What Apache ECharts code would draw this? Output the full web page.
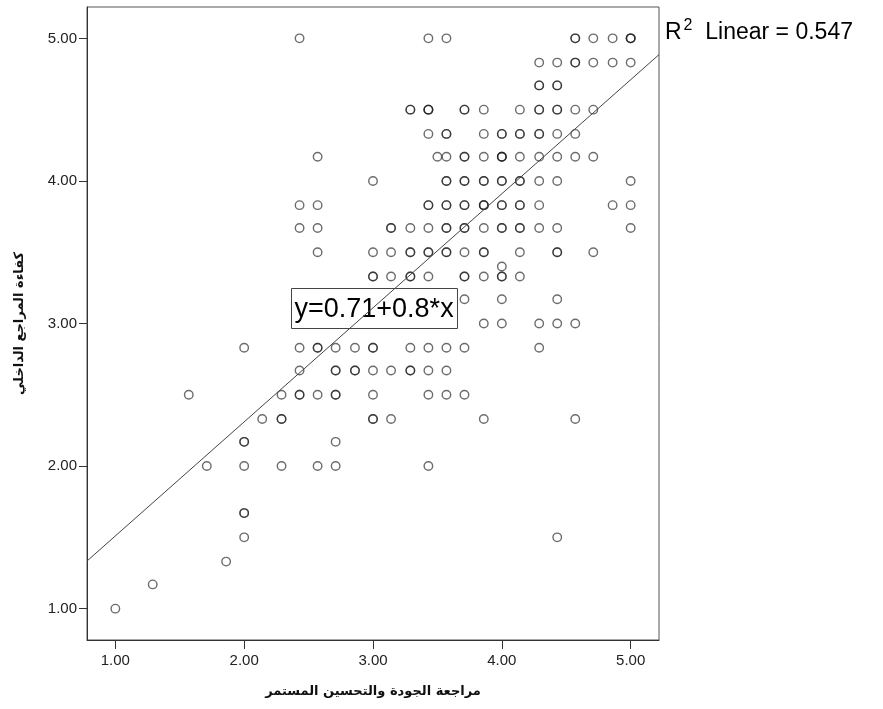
<!DOCTYPE html>
<html>
<head>
<meta charset="utf-8">
<script src="https://cdn.jsdelivr.net/npm/echarts@6/dist/echarts.min.js"></script>
<style>
  html, body { margin: 0; padding: 0; background: #fff; }
  #main { width: 883px; height: 709px; }
</style>
</head>
<body>
<div id="main"></div>
<script>
// y levels of the scatter (internal auditor efficiency)
var yLevels = [5.00, 4.83, 4.67, 4.50, 4.33, 4.17, 4.00, 3.83, 3.67, 3.50, 3.40, 3.33, 3.17,
               3.00, 2.83, 2.67, 2.50, 2.33, 2.17, 2.00, 1.67, 1.50, 1.33, 1.17, 1.00];
// x values (quality review) found on each level, repeats = overlapping cases
var xAtLevel = [
  [2.43, 3.43, 3.57, 4.57, 4.57, 4.71, 4.86, 5.00, 5.00, 5.00],
  [4.29, 4.43, 4.57, 4.57, 4.71, 4.86, 5.00],
  [4.29, 4.29, 4.43, 4.43],
  [3.29, 3.29, 3.43, 3.43, 3.43, 3.71, 3.71, 3.86, 4.14, 4.29, 4.29, 4.43, 4.43, 4.57, 4.71],
  [3.43, 3.57, 3.57, 3.86, 4.00, 4.00, 4.14, 4.14, 4.29, 4.29, 4.43, 4.57],
  [2.57, 3.50, 3.57, 3.71, 3.71, 3.86, 4.00, 4.00, 4.00, 4.14, 4.29, 4.43, 4.57, 4.71],
  [3.00, 3.57, 3.57, 3.71, 3.71, 3.86, 3.86, 4.00, 4.00, 4.14, 4.14, 4.29, 4.43, 5.00],
  [2.43, 2.57, 3.43, 3.43, 3.57, 3.57, 3.71, 3.71, 3.86, 3.86, 3.86, 4.00, 4.00, 4.14, 4.14, 4.29, 4.86, 5.00],
  [2.43, 2.57, 3.14, 3.14, 3.29, 3.43, 3.57, 3.57, 3.71, 3.71, 3.86, 4.00, 4.00, 4.14, 4.14, 4.29, 4.43, 5.00],
  [2.57, 3.00, 3.14, 3.29, 3.29, 3.43, 3.43, 3.57, 3.57, 3.71, 3.86, 3.86, 4.14, 4.43, 4.43, 4.71],
  [4.00],
  [3.00, 3.00, 3.14, 3.29, 3.29, 3.43, 3.71, 3.71, 3.86, 4.00, 4.00, 4.14],
  [3.71, 4.00, 4.43],
  [3.86, 4.00, 4.29, 4.43, 4.57],
  [2.00, 2.43, 2.57, 2.57, 2.71, 2.86, 3.00, 3.00, 3.29, 3.43, 3.57, 3.71, 4.29],
  [2.43, 2.71, 2.71, 2.86, 2.86, 3.00, 3.14, 3.29, 3.29, 3.43, 3.57],
  [1.57, 2.29, 2.43, 2.43, 2.57, 2.71, 2.71, 3.00, 3.43, 3.57, 3.71],
  [2.14, 2.29, 2.29, 3.00, 3.00, 3.14, 3.86, 4.57],
  [2.00, 2.00, 2.71],
  [1.71, 2.00, 2.29, 2.57, 2.71, 3.43],
  [2.00, 2.00],
  [2.00, 4.43],
  [1.86],
  [1.29],
  [1.00]
];
var tickValues = [1, 2, 3, 4, 5];
var fitIntercept = 0.71;
var fitSlope = 0.8;
var rSquared = 0.547;

// SPSS pads both axes the same way
var axMin = 0.78, axMax = 5.22;

var points = [];
for (var i = 0; i < yLevels.length; i++) {
  for (var k = 0; k < xAtLevel[i].length; k++) {
    points.push([xAtLevel[i][k], yLevels[i]]);
  }
}
var fitLine = [
  [axMin, fitIntercept + fitSlope * axMin],
  [axMax, fitIntercept + fitSlope * axMax]
];

var myChart = echarts.init(document.getElementById('main'));

var tickFmt = function (v) { return v.toFixed(2); };

var option = {
  backgroundColor: '#fff',
  animation: false,
  grid: {
    left: 87, top: 7, width: 572, height: 633,
    show: true, borderColor: '#555', borderWidth: 1, backgroundColor: 'transparent'
  },
  xAxis: {
    type: 'value', min: axMin, max: axMax,
    name: 'مراجعة الجودة والتحسين المستمر',
    nameLocation: 'middle', nameGap: 45,
    nameTextStyle: { fontFamily: 'DejaVu Sans', fontWeight: 'bold', fontSize: 13, color: '#111' },
    splitLine: { show: false },
    axisLine: { show: true, lineStyle: { color: '#333' } },
    axisTick: { show: true, customValues: tickValues, length: 9, lineStyle: { color: '#333' } },
    axisLabel: {
      customValues: tickValues, margin: 13, formatter: tickFmt,
      fontFamily: 'Liberation Sans', fontSize: 15, color: '#222'
    }
  },
  yAxis: {
    type: 'value', min: axMin, max: axMax,
    name: 'كفاءة المراجع الداخلي',
    nameLocation: 'middle', nameGap: 61,
    nameTextStyle: { fontFamily: 'DejaVu Sans', fontWeight: 'bold', fontSize: 13, color: '#111' },
    splitLine: { show: false },
    axisLine: { show: true, lineStyle: { color: '#333' } },
    axisTick: { show: true, customValues: tickValues, length: 8, lineStyle: { color: '#333' } },
    axisLabel: {
      customValues: tickValues, margin: 10, formatter: tickFmt,
      fontFamily: 'Liberation Sans', fontSize: 15, color: '#222'
    }
  },
  series: [{
    type: 'scatter',
    data: points,
    symbol: 'circle',
    symbolSize: 8.5,
    itemStyle: { color: 'transparent', borderColor: 'rgba(30,30,30,0.82)', borderWidth: 1.4 },
    silent: true
  }, {
    type: 'line',
    data: fitLine,
    showSymbol: false,
    silent: true,
    lineStyle: { color: '#444', width: 1 },
    z: 3
  }],
  graphic: [{
    type: 'group',
    left: 291, top: 288,
    children: [{
      type: 'rect',
      shape: { x: 0, y: 0, width: 166, height: 40 },
      style: { fill: '#fff', stroke: '#444', lineWidth: 1 }
    }, {
      type: 'text',
      x: 3, y: 21,
      style: {
        text: 'y=' + fitIntercept + '+' + fitSlope + '*x',
        fontFamily: 'Liberation Sans', fontSize: 27, fill: '#000',
        verticalAlign: 'middle'
      }
    }],
    z: 10
  }, {
    type: 'text',
    left: 665, top: 18,
    style: {
      text: '{a|R}{s|2}{a|  Linear = ' + rSquared + '}',
      rich: {
        a: { fontFamily: 'Liberation Sans', fontSize: 23, fill: '#000', verticalAlign: 'bottom' },
        s: { fontFamily: 'Liberation Sans', fontSize: 16, fill: '#000', verticalAlign: 'top', padding: [0, 0, 10, 2] }
      }
    },
    z: 10
  }]
};
myChart.setOption(option);
</script>
</body>
</html>
